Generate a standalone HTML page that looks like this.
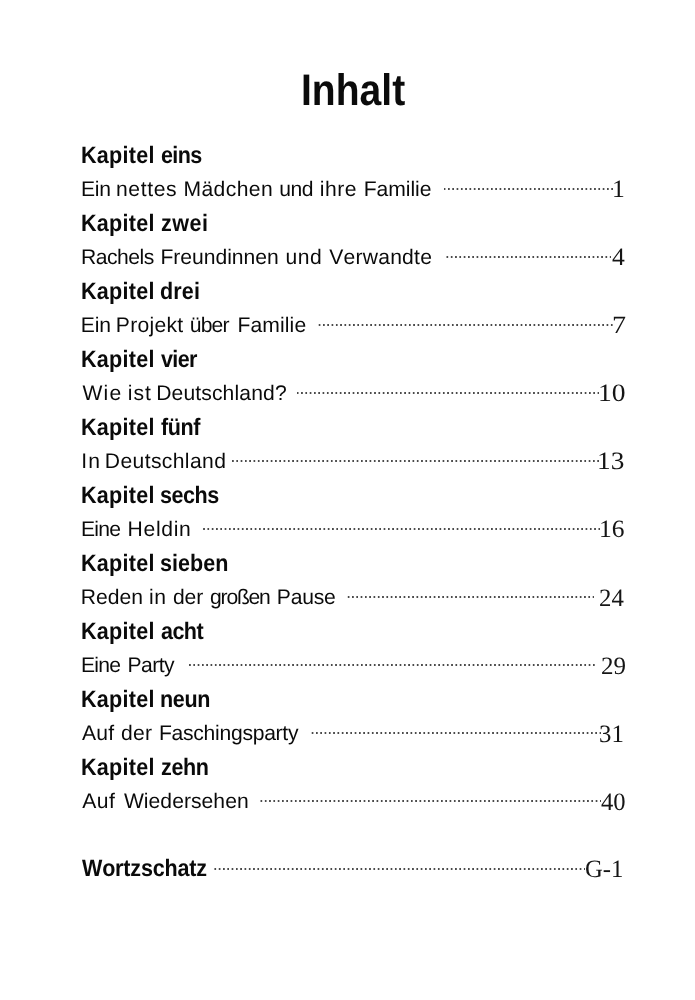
<!DOCTYPE html>
<html lang="de"><head><meta charset="utf-8"><title>Inhalt</title>
<style>
html,body{margin:0;padding:0;background:#fff;}
body{width:695px;height:1000px;position:relative;overflow:hidden;font-family:"Liberation Sans",sans-serif;color:#111;font-kerning:none;text-rendering:geometricPrecision;}
.r{position:absolute;left:0;width:695px;height:0;line-height:0;white-space:nowrap;}
.r span{position:absolute;top:0;display:block;transform-origin:0 0;white-space:nowrap;line-height:0;}
.t{font-weight:bold;color:#0b0b0b;}
.h{font-weight:bold;color:#0a0a0a;}
.s{font-weight:normal;color:#0a0a0a;}
.n{font-family:"Liberation Serif",serif;color:#151515;}
.l{position:absolute;height:2px;background-image:linear-gradient(to right,rgba(255,255,255,0) 0,rgba(255,255,255,0) 2.91px,#4a4a4a 2.91px,#4a4a4a 4.31px);background-size:4.31px 100%;background-repeat:repeat-x;background-position:right top;}
#pg{position:absolute;left:0;top:0;width:695px;height:1000px;will-change:transform;}
</style></head><body><div id="pg">
<div class="r t" style="top:90.75px;font-size:44.2px"><span style="left:301.09px;transform:scaleX(0.8840)">Inhalt</span></div>
<div class="r h" style="top:155.75px;font-size:23.8px"><span style="left:81.26px;letter-spacing:0.323px;transform:scaleX(0.9050)">Kapitel</span> <span style="left:160.66px;letter-spacing:-0.727px;transform:scaleX(0.9050)">eins</span></div>
<div class="r s" style="top:189.75px;font-size:21.1px"><span style="left:80.97px;letter-spacing:-0.247px;transform:scaleX(1.0000)">Ein</span> <span style="left:116.00px;letter-spacing:0.637px;transform:scaleX(1.0000)">nettes</span> <span style="left:183.47px;letter-spacing:0.417px;transform:scaleX(1.0000)">Mädchen</span> <span style="left:279.13px;letter-spacing:-0.437px;transform:scaleX(1.0000)">und</span> <span style="left:319.79px;letter-spacing:0.522px;transform:scaleX(1.0000)">ihre</span> <span style="left:363.67px;letter-spacing:-0.022px;transform:scaleX(1.0000)">Familie</span></div>
<div class="l" style="left:444.00px;top:188px;width:169.00px"></div>
<div class="r n" style="top:189.75px;font-size:25.0px"><span style="left:612.45px;transform:scaleX(1.0226)">1</span></div>
<div class="r h" style="top:223.75px;font-size:23.8px"><span style="left:81.26px;letter-spacing:0.323px;transform:scaleX(0.9050)">Kapitel</span> <span style="left:160.64px;letter-spacing:0.516px;transform:scaleX(0.9050)">zwei</span></div>
<div class="r s" style="top:257.75px;font-size:21.1px"><span style="left:81.07px;letter-spacing:-0.489px;transform:scaleX(1.0000)">Rachels</span> <span style="left:160.47px;letter-spacing:-0.028px;transform:scaleX(1.0000)">Freundinnen</span> <span style="left:285.53px;letter-spacing:0.563px;transform:scaleX(1.0000)">und</span> <span style="left:329.21px;letter-spacing:0.232px;transform:scaleX(1.0000)">Verwandte</span></div>
<div class="l" style="left:443.50px;top:256px;width:167.50px"></div>
<div class="r n" style="top:257.75px;font-size:25.0px"><span style="left:611.80px;transform:scaleX(1.0240)">4</span></div>
<div class="r h" style="top:291.75px;font-size:23.8px"><span style="left:81.26px;letter-spacing:0.323px;transform:scaleX(0.9050)">Kapitel</span> <span style="left:160.42px;letter-spacing:0.150px;transform:scaleX(0.9050)">drei</span></div>
<div class="r s" style="top:325.75px;font-size:21.1px"><span style="left:80.87px;letter-spacing:-0.147px;transform:scaleX(1.0000)">Ein</span> <span style="left:115.87px;letter-spacing:0.269px;transform:scaleX(1.0000)">Projekt</span> <span style="left:189.87px;letter-spacing:-0.883px;transform:scaleX(1.0000)">über</span> <span style="left:237.47px;letter-spacing:0.112px;transform:scaleX(1.0000)">Familie</span></div>
<div class="l" style="left:317.40px;top:324px;width:295.60px"></div>
<div class="r n" style="top:325.75px;font-size:25.0px"><span style="left:612.15px;transform:scaleX(1.1252)">7</span></div>
<div class="r h" style="top:359.75px;font-size:23.8px"><span style="left:81.26px;letter-spacing:0.323px;transform:scaleX(0.9050)">Kapitel</span> <span style="left:160.82px;letter-spacing:-0.668px;transform:scaleX(0.9050)">vier</span></div>
<div class="r s" style="top:393.75px;font-size:21.1px"><span style="left:82.41px;letter-spacing:1.296px;transform:scaleX(1.0000)">Wie</span> <span style="left:127.69px;letter-spacing:1.033px;transform:scaleX(1.0000)">ist</span> <span style="left:156.17px;letter-spacing:0.135px;transform:scaleX(1.0000)">Deutschland?</span></div>
<div class="l" style="left:296.70px;top:392px;width:302.30px"></div>
<div class="r n" style="top:393.75px;font-size:25.0px"><span style="left:597.98px;transform:scaleX(1.1029)">10</span></div>
<div class="r h" style="top:427.75px;font-size:23.8px"><span style="left:81.26px;letter-spacing:0.323px;transform:scaleX(0.9050)">Kapitel</span> <span style="left:160.63px;letter-spacing:-0.491px;transform:scaleX(0.9050)">fünf</span></div>
<div class="r s" style="top:461.75px;font-size:21.1px"><span style="left:81.15px;letter-spacing:1.320px;transform:scaleX(1.0000)">In</span> <span style="left:104.77px;letter-spacing:0.389px;transform:scaleX(1.0000)">Deutschland</span></div>
<div class="l" style="left:231.00px;top:460px;width:368.00px"></div>
<div class="r n" style="top:461.75px;font-size:25.0px"><span style="left:597.30px;transform:scaleX(1.0904)">13</span></div>
<div class="r h" style="top:495.75px;font-size:23.8px"><span style="left:81.26px;letter-spacing:0.323px;transform:scaleX(0.9050)">Kapitel</span> <span style="left:160.14px;letter-spacing:-0.506px;transform:scaleX(0.9050)">sechs</span></div>
<div class="r s" style="top:529.75px;font-size:21.1px"><span style="left:80.97px;letter-spacing:-0.754px;transform:scaleX(1.0000)">Eine</span> <span style="left:127.57px;letter-spacing:0.697px;transform:scaleX(1.0000)">Heldin</span></div>
<div class="l" style="left:201.80px;top:528px;width:398.20px"></div>
<div class="r n" style="top:529.75px;font-size:25.0px"><span style="left:599.16px;transform:scaleX(1.0200)">16</span></div>
<div class="r h" style="top:563.75px;font-size:23.8px"><span style="left:81.26px;letter-spacing:0.323px;transform:scaleX(0.9050)">Kapitel</span> <span style="left:160.14px;letter-spacing:0.013px;transform:scaleX(0.9050)">sieben</span></div>
<div class="r s" style="top:597.75px;font-size:21.1px"><span style="left:80.77px;letter-spacing:0.031px;transform:scaleX(1.0000)">Reden</span> <span style="left:149.09px;letter-spacing:0.459px;transform:scaleX(1.0000)">in</span> <span style="left:173.01px;letter-spacing:-0.130px;transform:scaleX(1.0000)">der</span> <span style="left:210.11px;letter-spacing:-1.240px;transform:scaleX(1.0000)">großen</span> <span style="left:276.87px;letter-spacing:-0.240px;transform:scaleX(1.0000)">Pause</span></div>
<div class="l" style="left:346.10px;top:596px;width:248.40px"></div>
<div class="r n" style="top:598.75px;font-size:25.0px"><span style="left:599.31px;transform:scaleX(0.9910)">24</span></div>
<div class="r h" style="top:631.75px;font-size:23.8px"><span style="left:81.26px;letter-spacing:0.323px;transform:scaleX(0.9050)">Kapitel</span> <span style="left:160.67px;letter-spacing:-0.624px;transform:scaleX(0.9050)">acht</span></div>
<div class="r s" style="top:665.75px;font-size:21.1px"><span style="left:80.97px;letter-spacing:-0.754px;transform:scaleX(1.0000)">Eine</span> <span style="left:127.57px;letter-spacing:-0.544px;transform:scaleX(1.0000)">Party</span></div>
<div class="l" style="left:187.10px;top:664px;width:407.70px"></div>
<div class="r n" style="top:666.75px;font-size:25.0px"><span style="left:600.50px;transform:scaleX(1.0011)">29</span></div>
<div class="r h" style="top:699.75px;font-size:23.8px"><span style="left:81.26px;letter-spacing:0.323px;transform:scaleX(0.9050)">Kapitel</span> <span style="left:160.38px;letter-spacing:-0.403px;transform:scaleX(0.9050)">neun</span></div>
<div class="r s" style="top:733.75px;font-size:21.1px"><span style="left:81.96px;letter-spacing:0.270px;transform:scaleX(1.0000)">Auf</span> <span style="left:121.01px;letter-spacing:0.270px;transform:scaleX(1.0000)">der</span> <span style="left:158.97px;letter-spacing:-0.269px;transform:scaleX(1.0000)">Faschingsparty</span></div>
<div class="l" style="left:310.50px;top:732px;width:290.30px"></div>
<div class="r n" style="top:734.75px;font-size:25.0px"><span style="left:599.21px;transform:scaleX(0.9909)">31</span></div>
<div class="r h" style="top:767.75px;font-size:23.8px"><span style="left:81.26px;letter-spacing:0.323px;transform:scaleX(0.9050)">Kapitel</span> <span style="left:160.64px;letter-spacing:-0.392px;transform:scaleX(0.9050)">zehn</span></div>
<div class="r s" style="top:801.75px;font-size:21.1px"><span style="left:82.16px;letter-spacing:0.470px;transform:scaleX(1.0000)">Auf</span> <span style="left:123.91px;letter-spacing:0.044px;transform:scaleX(1.0000)">Wiedersehen</span></div>
<div class="l" style="left:259.60px;top:800px;width:341.70px"></div>
<div class="r n" style="top:802.75px;font-size:25.0px"><span style="left:600.82px;transform:scaleX(0.9847)">40</span></div>
<div class="r h" style="top:868.75px;font-size:23.8px"><span style="left:81.78px;letter-spacing:-0.204px;transform:scaleX(0.9050)">Wortzschatz</span></div>
<div class="l" style="left:211.80px;top:868px;width:373.70px"></div>
<div class="r n" style="top:869.75px;font-size:25.0px"><span style="left:584.79px;transform:scaleX(0.9876)">G-1</span></div>
</div></body></html>
